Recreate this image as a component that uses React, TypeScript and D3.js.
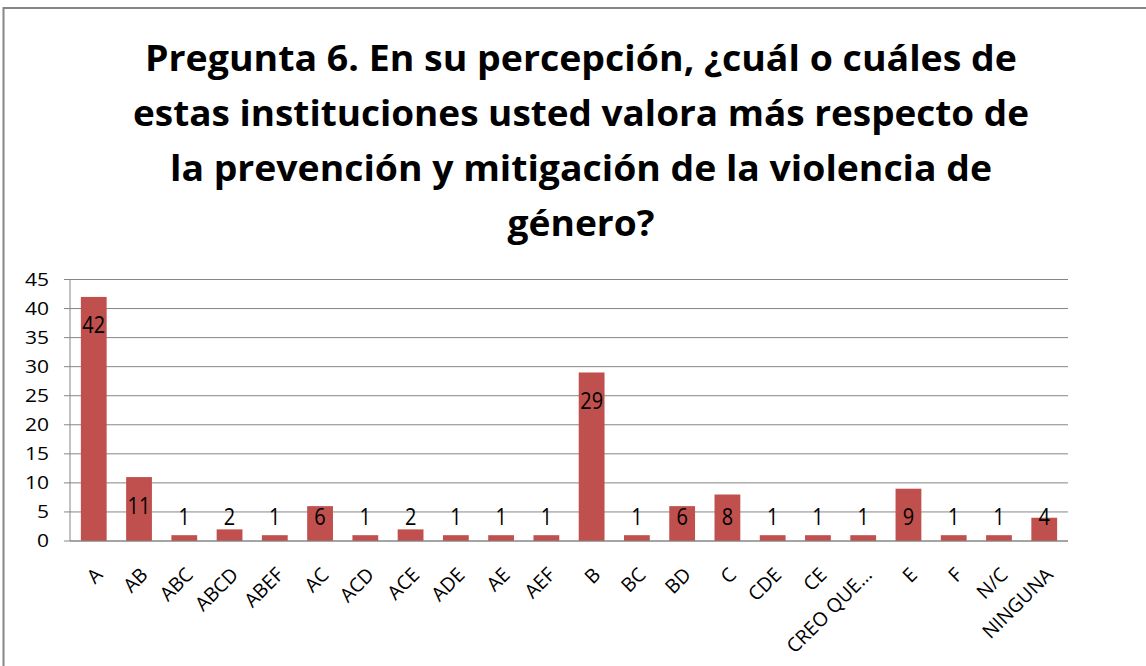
import React from 'react';
import * as d3 from 'd3';

const categories = ['A', 'AB', 'ABC', 'ABCD', 'ABEF', 'AC', 'ACD', 'ACE', 'ADE', 'AE', 'AEF', 'B', 'BC', 'BD', 'C', 'CDE', 'CE', 'CREO QUE…', 'E', 'F', 'N/C', 'NINGUNA'];
const values = [42, 11, 1, 2, 1, 6, 1, 2, 1, 1, 1, 29, 1, 6, 8, 1, 1, 1, 9, 1, 1, 4];
const yTicks = [0, 5, 10, 15, 20, 25, 30, 35, 40, 45];
const titleLines = [
  'Pregunta 6. En su percepción, ¿cuál o cuáles de',
  'estas instituciones usted valora más respecto de',
  'la prevención y mitigación de la violencia de',
  'género?',
];
const titleWidths = [872, 896, 822, 147];

const width = 1146;
const height = 666;
const font = '"Open Sans", "DejaVu Sans", sans-serif';

const App = () => {
  const margin = { top: 279.5, right: 78, bottom: 125, left: 70 };

  const xScale = d3
    .scaleBand()
    .domain(categories)
    .range([margin.left, width - margin.right])
    .paddingInner(0.43)
    .paddingOuter(0.24);

  const yScale = d3
    .scaleLinear()
    .domain([0, 45])
    .range([height - margin.bottom, margin.top]);

  const y0 = yScale(0);

  return (
    <svg width={width} height={height} style={{ position: 'absolute', left: 0, top: 0, background: '#fff' }}>
      {/* chart frame */}
      <rect x={3.5} y={8} width={1200} height={720} fill="#fff" stroke="#868686" strokeWidth={2} />

      {/* title */}
      {titleLines.map((line, i) => (
        <text
          key={i}
          x={581}
          y={71 + i * 55}
          textAnchor="middle"
          fontFamily={font}
          fontWeight="bold"
          fontSize={36}
          fill="#000"
          textLength={titleWidths[i]}
          lengthAdjust="spacingAndGlyphs"
        >
          {line}
        </text>
      ))}

      {/* gridlines and y ticks */}
      {yTicks.map((t) => (
        <g key={t}>
          <line x1={margin.left} x2={width - margin.right} y1={yScale(t)} y2={yScale(t)} stroke="#868686" strokeWidth={1} />
          <line x1={margin.left - 6} x2={margin.left} y1={yScale(t)} y2={yScale(t)} stroke="#868686" />
          <text
            transform={`translate(49, ${yScale(t)}) scale(1.2, 1)`}
            dy="0.36em"
            textAnchor="end"
            fontFamily={font}
            fontSize={17.5}
            fill="#000"
          >
            {t}
          </text>
        </g>
      ))}
      <line x1={margin.left} x2={margin.left} y1={margin.top} y2={y0} stroke="#868686" />

      {/* bars */}
      {categories.map((c, i) => (
        <rect
          key={c}
          x={xScale(c)}
          y={yScale(values[i])}
          width={xScale.bandwidth()}
          height={y0 - yScale(values[i])}
          fill="#C0504D"
        />
      ))}

      {/* data labels */}
      {categories.map((c, i) => (
        <text
          key={c}
          transform={`translate(${xScale(c)! + xScale.bandwidth() / 2}, ${Math.min(yScale(values[i]) + 28, y0 - 24)}) scale(0.85, 1)`}
          dy="0.36em"
          textAnchor="middle"
          fontFamily={font}
          fontSize={23.5}
          fill="#000"
        >
          {values[i]}
        </text>
      ))}

      {/* x axis */}
      <line x1={margin.left} x2={width - margin.right} y1={y0} y2={y0} stroke="#868686" />
      {categories.map((c) => {
        const cx = xScale(c)! + xScale.bandwidth() / 2;
        return (
          <text
            key={c}
            transform={`translate(${cx + 10}, ${y0 + 35}) rotate(-45)`}
            textAnchor="end"
            fontFamily={font}
            fontSize={19.5}
            fill="#000"
          >
            {c}
          </text>
        );
      })}
    </svg>
  );
};

export default App;
